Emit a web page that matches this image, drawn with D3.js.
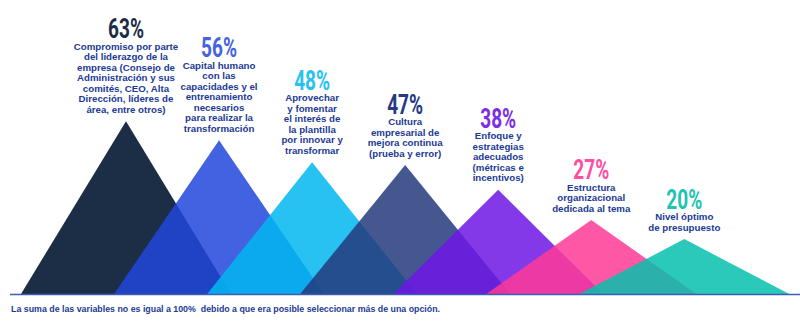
<!DOCTYPE html>
<html>
<head>
<meta charset="utf-8">
<script src="https://cdn.jsdelivr.net/npm/d3@7"></script>
<style>
  html, body { margin: 0; padding: 0; background: #ffffff; }
  svg { display: block; }
  text { font-family: "Liberation Sans", Arial, sans-serif; font-weight: bold; }
  .pct { font-family: Roboto, "Liberation Sans", sans-serif; font-weight: 700; }
</style>
</head>
<body>
<svg id="chart" width="800" height="331"></svg>
<script>
// Share of respondents naming each factor (%)
const values = [63, 56, 48, 47, 38, 27, 20];

// Factor descriptions, one entry per mountain, broken into lines
const descriptions = [
  ["Compromiso por parte", "del liderazgo de la", "empresa (Consejo de", "Administración y sus", "comités, CEO, Alta", "Dirección, líderes de", "área, entre otros)"],
  ["Capital humano", "con las", "capacidades y el", "entrenamiento", "necesarios", "para realizar la", "transformación"],
  ["Aprovechar", "y fomentar", "el interés de", "la plantilla", "por innovar y", "transformar"],
  ["Cultura", "empresarial de", "mejora continua", "(prueba y error)"],
  ["Enfoque y", "estrategias", "adecuados", "(métricas e", "incentivos)"],
  ["Estructura", "organizacional", "dedicada al tema"],
  ["Nivel óptimo", "de presupuesto"]
];

const categories = descriptions.map(d => d.join(" "));

const footnote = "La suma de las variables no es igual a 100%\u00a0 debido a que era posible seleccionar más de una opción.";

// Colours of each mountain as seen over white, and of its percentage label
const mountainColors = ["#1b2e45", "#4263e2", "#27c2f2", "#45578f", "#8539e9", "#fe57a7", "#2bc9b9"];
const pctColors = ["#1b2e45", "#4263e2", "#27c2f2", "#233a85", "#7b2ee6", "#fe4ea2", "#22c3b0"];
const textColor = "#1c3a94";

const svg = d3.select("#chart");
const baseY = 294;
const halfBase = 105;
const alpha = 0.85;

const x = d3.scalePoint().domain(categories).range([126, 684.3]);
const y = d3.scaleLinear().domain([0, 100]).range([baseY, baseY - 274.4]);

// Solid colour that gives the wanted tint when painted at the given opacity over white
function solidFor(hex, a) {
  const c = d3.rgb(hex);
  const f = v => Math.max(0, Math.min(255, (v - (1 - a) * 255) / a));
  return d3.rgb(f(c.r), f(c.g), f(c.b)).formatHex();
}

const data = values.map((v, i) => ({ v, cat: categories[i], i }));

// Mountains, later ones painted translucently over earlier ones
svg.append("g")
  .selectAll("path")
  .data(data)
  .join("path")
  .attr("d", d => {
    const cx = x(d.cat);
    return d3.line()([[cx - halfBase, y(0)], [cx, y(d.v)], [cx + halfBase, y(0)]]) + "Z";
  })
  .attr("fill", d => d.i === 0 ? mountainColors[0] : solidFor(mountainColors[d.i], alpha))
  .attr("fill-opacity", d => d.i === 0 ? 1 : alpha);

// Ground line
svg.append("line")
  .attr("x1", 10).attr("x2", 800)
  .attr("y1", baseY + 0.5).attr("y2", baseY + 0.5)
  .attr("stroke", "#3d5db3")
  .attr("stroke-width", 1.6);

// Labels stacked above each peak
const lineH = 10.55;
const labels = svg.append("g").selectAll("g").data(data).join("g");

labels.each(function (d) {
  const g = d3.select(this);
  const cx = x(d.cat);
  const lines = descriptions[d.i];
  const lastBase = y(d.v) - 8.3;
  const firstBase = lastBase - (lines.length - 1) * lineH;

  g.selectAll("text.desc")
    .data(lines)
    .join("text")
    .attr("class", "desc")
    .attr("x", cx)
    .attr("y", (t, k) => firstBase + k * lineH)
    .attr("text-anchor", "middle")
    .attr("font-size", 9.7)
    .attr("fill", textColor)
    .text(t => t);

  g.append("text")
    .attr("class", "pct")
    .attr("transform", `translate(${cx},${firstBase - 11.3}) scale(0.68,1)`)
    .attr("text-anchor", "middle")
    .attr("font-size", 28)
    .attr("fill", pctColors[d.i])
    .text(d.v + "%");
});

// Footnote
svg.append("text")
  .attr("x", 11)
  .attr("y", 312)
  .attr("font-size", 8.6)
  .attr("fill", textColor)
  .attr("textLength", 429)
  .attr("lengthAdjust", "spacingAndGlyphs")
  .text(footnote);
</script>
</body>
</html>
